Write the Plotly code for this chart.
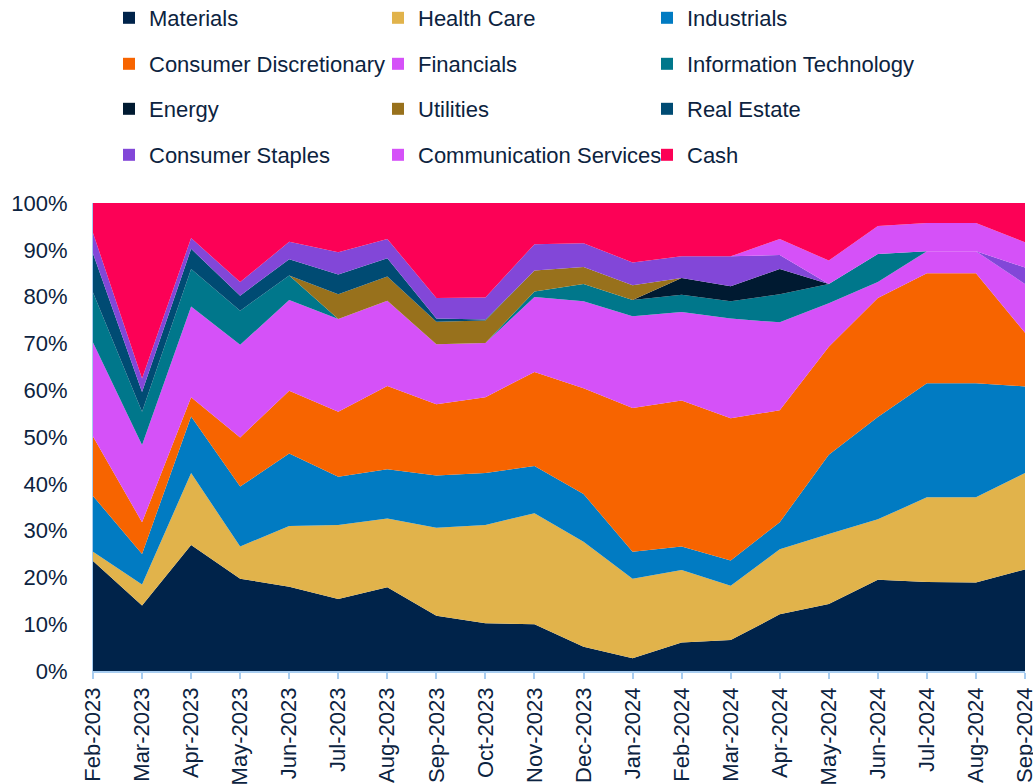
import plotly.graph_objects as go

months = ["Feb-2023", "Mar-2023", "Apr-2023", "May-2023", "Jun-2023", "Jul-2023",
          "Aug-2023", "Sep-2023", "Oct-2023", "Nov-2023", "Dec-2023", "Jan-2024",
          "Feb-2024", "Mar-2024", "Apr-2024", "May-2024", "Jun-2024", "Jul-2024",
          "Aug-2024", "Sep-2024"]

materials = [23.5, 14.0, 26.9, 19.7, 18.0, 15.4, 17.9, 11.8, 10.2, 10.0, 5.2, 2.7, 6.1, 6.6, 12.1, 14.3, 19.5, 19.0, 18.9, 21.7]
health_care = [2.0, 4.5, 15.4, 6.9, 13.0, 15.8, 14.7, 18.8, 21.0, 23.7, 22.4, 17.0, 15.5, 11.6, 13.9, 15.0, 12.9, 18.1, 18.2, 20.6]
industrials = [11.9, 6.5, 12.1, 12.8, 15.5, 10.3, 10.5, 11.2, 11.1, 10.1, 10.2, 5.8, 5.0, 5.4, 5.8, 16.9, 21.9, 24.4, 24.4, 18.5]
consumer_disc = [12.7, 6.8, 4.1, 10.5, 13.4, 13.9, 17.8, 15.2, 16.2, 20.1, 22.6, 30.7, 31.2, 30.4, 23.9, 23.1, 25.4, 23.5, 23.5, 11.5]
financials = [20.1, 16.5, 19.4, 19.8, 19.4, 19.8, 18.2, 12.8, 11.6, 16.0, 18.6, 19.6, 18.9, 21.3, 18.8, 9.3, 3.4, 4.7, 4.7, 10.4]
info_tech = [10.7, 7.1, 8.0, 7.3, 5.2, 0, 0, 0, 0, 1.2, 3.7, 3.5, 3.7, 3.7, 6.0, 4.1, 6.0, 0, 0, 0]
energy = [0, 0, 0, 0, 0, 0, 0, 0, 0, 0, 0, 0, 3.6, 3.2, 5.4, 0, 0, 0, 0, 0]
utilities = [0, 0, 0, 0, 0, 5.3, 5.2, 4.8, 4.8, 4.5, 3.6, 3.1, 0, 0, 0, 0, 0, 0, 0, 0]
real_estate = [8.3, 4.2, 4.3, 3.2, 3.5, 4.2, 3.9, 0.7, 0.2, 0, 0, 0, 0, 0, 0, 0, 0, 0, 0, 0]
consumer_staples = [4.4, 2.9, 2.3, 2.9, 3.7, 4.8, 4.1, 4.4, 4.7, 5.6, 5.1, 4.9, 4.6, 6.4, 3.0, 0, 0, 0, 0, 3.5]
comm_services = [0, 0, 0, 0, 0, 0, 0, 0, 0, 0, 0, 0, 0, 0, 3.4, 5.0, 6.0, 6.0, 6.0, 5.4]
cash = [6.4, 37.5, 7.5, 16.9, 8.3, 10.5, 7.7, 20.3, 20.2, 8.8, 8.6, 12.7, 11.4, 11.4, 7.7, 12.3, 4.9, 4.3, 4.3, 8.4]

series_names = ["Materials", "Health Care", "Industrials",
                "Consumer Discretionary", "Financials", "Information Technology",
                "Energy", "Utilities", "Real Estate",
                "Consumer Staples", "Communication Services", "Cash"]
series_values = [materials, health_care, industrials, consumer_disc, financials, info_tech,
                 energy, utilities, real_estate, consumer_staples, comm_services, cash]
series_colors = ["#00234A", "#E1B34B", "#017BC2", "#F76400", "#D551F8", "#00778B",
                 "#001A31", "#98711C", "#004B73", "#8247D8", "#D551F8", "#FC0156"]

TEXT = "#0C2340"
AXIS = "#A8CDF0"
FONT = "Liberation Sans, Arial, sans-serif"

fig = go.Figure()
for name, vals, col in zip(series_names, series_values, series_colors):
    fig.add_trace(go.Scatter(
        x=months, y=vals, name=name, mode="lines", stackgroup="one",
        line=dict(width=0, color=col), fillcolor=col, showlegend=False,
        hoverinfo="x+y+name"))

legend_ids = ["legend", "legend2", "legend3", "legend4"]
for i, (name, col) in enumerate(zip(series_names, series_colors)):
    fig.add_trace(go.Scatter(
        x=[None], y=[None], name=name, mode="markers",
        marker=dict(symbol="square", size=13, color=col),
        showlegend=True, legend=legend_ids[i // 3]))

W, H = 1033, 784
row_y = [18, 64, 109, 155]
legend_common = dict(orientation="h", xanchor="left", yanchor="middle",
                     xref="container", yref="container",
                     x=109 / W, font=dict(size=22, color=TEXT, family=FONT),
                     entrywidth=224, entrywidthmode="pixels", bgcolor="rgba(0,0,0,0)",
                     itemsizing="constant", traceorder="normal")
legends = {}
for lid, py in zip(legend_ids, row_y):
    d = dict(legend_common)
    d["y"] = 1 - py / H
    legends[lid] = d

fig.update_layout(
    width=W, height=H,
    margin=dict(l=93, r=8, t=203, b=113, autoexpand=False),
    paper_bgcolor="white", plot_bgcolor="white",
    font=dict(family=FONT, size=22, color=TEXT),
    xaxis=dict(type="category", range=[0, len(months) - 1], showgrid=False,
               showline=True, linecolor=AXIS, linewidth=1.5, automargin=False,
               ticks="outside", ticklen=6, tickcolor=AXIS, tickwidth=1.5,
               tickangle=-90, tickfont=dict(size=22, color=TEXT)),
    yaxis=dict(range=[0, 100], dtick=10, ticksuffix="%", showgrid=False,
               showline=True, linecolor=AXIS, linewidth=1, ticks="", automargin=False,
               ticklabelstandoff=20, tickfont=dict(size=22, color=TEXT), zeroline=False),
    **legends,
)

fig.write_html("out.html",
               config={"displayModeBar": False},
               post_script="document.body.style.margin='0';document.body.style.overflow='hidden';")
